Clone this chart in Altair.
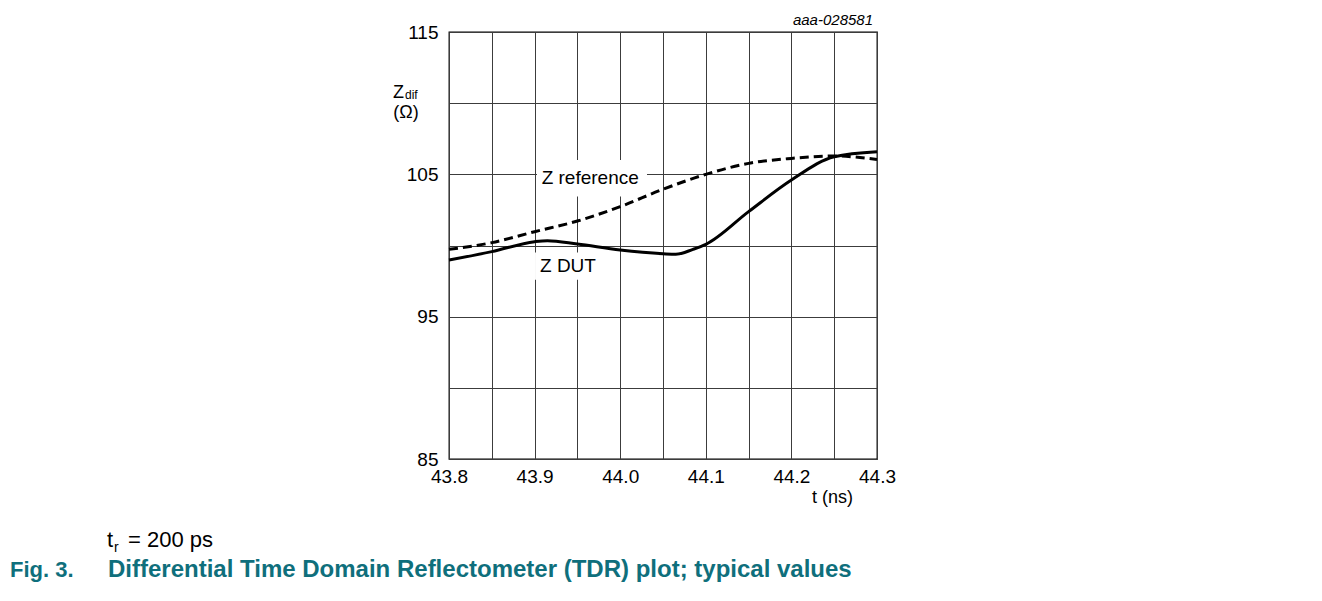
import altair as alt
import pandas as pd

# ---- data ----
t_ref = [43.8, 43.85, 43.9, 43.95, 44.0, 44.05, 44.1, 44.15, 44.2, 44.25, 44.3]
z_ref = [99.73, 100.2, 100.97, 101.72, 102.73, 103.95, 105.0, 105.77, 106.12, 106.29, 106.05]

t_dut = [43.8, 43.85, 43.9, 43.915, 43.95, 44.0, 44.05, 44.065, 44.085, 44.1, 44.15, 44.2, 44.25, 44.3]
z_dut = [98.98, 99.57, 100.27, 100.34, 100.1, 99.68, 99.42, 99.38, 99.73, 100.08, 102.38, 104.6, 106.24, 106.59]

x_ticks = [43.8, 43.85, 43.9, 43.95, 44.0, 44.05, 44.1, 44.15, 44.2, 44.25, 44.3]
y_ticks = [85, 90, 95, 100, 105, 110, 115]

label_text = ["Z reference", "Z DUT"]
label_t = [43.965, 43.939]
label_z = [104.74, 98.56]
box_t0 = [43.9028, 43.9005]
box_t1 = [44.0313, 43.9776]
box_z0 = [103.45, 97.6]
box_z1 = [106.0, 99.5]

FONT = "Liberation Sans"
GRID = "#3c3c3c"
TEAL = "#0f6f7c"

ref_df = pd.DataFrame({"t": t_ref, "z": z_ref})
dut_df = pd.DataFrame({"t": t_dut, "z": z_dut})
lab_df = pd.DataFrame({"text": label_text, "t": label_t, "z": label_z})
box_df = pd.DataFrame({"t0": box_t0, "t1": box_t1, "z0": box_z0, "z1": box_z1})
one = pd.DataFrame({"a": [0]})

xscale = alt.Scale(domain=[43.8, 44.3], nice=False, zero=False)
yscale = alt.Scale(domain=[85, 115], nice=False, zero=False)

xaxis = alt.Axis(
    values=x_ticks, grid=True, ticks=False, domain=False, title=None,
    labelExpr="abs(datum.value*10 - round(datum.value*10)) < 0.01 ? format(datum.value, '.1f') : ''",
    labelFont=FONT, labelFontSize=19, labelColor="black", labelPadding=8,
    labelOverlap=False, labelFlush=False, labelBound=False,
    gridColor=GRID, gridOpacity=1, gridWidth=1,
)
yaxis = alt.Axis(
    values=y_ticks, grid=True, ticks=False, domain=False, title=None,
    labelExpr="(datum.value % 10 == 5) ? datum.label : ''",
    labelFont=FONT, labelFontSize=19, labelColor="black", labelPadding=11,
    labelOverlap=False, labelFlush=False, labelBound=False,
    gridColor=GRID, gridOpacity=1, gridWidth=1,
)

ref_line = alt.Chart(ref_df).mark_line(
    color="black", strokeWidth=3, strokeDash=[9, 5], interpolate="monotone"
).encode(
    x=alt.X("t:Q", scale=xscale, axis=xaxis),
    y=alt.Y("z:Q", scale=yscale, axis=yaxis),
)

dut_line = alt.Chart(dut_df).mark_line(
    color="black", strokeWidth=3, interpolate="monotone"
).encode(
    x=alt.X("t:Q", scale=xscale),
    y=alt.Y("z:Q", scale=yscale),
)

boxes = alt.Chart(box_df).mark_rect(color="white", opacity=1).encode(
    x=alt.X("t0:Q", scale=xscale), x2="t1:Q",
    y=alt.Y("z0:Q", scale=yscale), y2="z1:Q",
)

labels = alt.Chart(lab_df).mark_text(
    font=FONT, fontSize=19, color="black", align="center", baseline="middle"
).encode(
    x=alt.X("t:Q", scale=xscale),
    y=alt.Y("z:Q", scale=yscale),
    text="text:N",
)


def txt(text, x, y, size=18, align="left", weight="normal", style="normal", color="black"):
    return alt.Chart(one).mark_text(
        text=text, font=FONT, fontSize=size, align=align, baseline="alphabetic",
        fontWeight=weight, fontStyle=style, color=color,
    ).encode(x=alt.value(x), y=alt.value(y))


annots = [
    txt("aaa-028581", 424, -7, size=15, align="right", style="italic"),
    txt("Z", -56, 66, size=18),
    txt("dif", -44, 67, size=12),
    txt("(\u03a9)", -43, 86, size=18, align="center"),
    txt("t (ns)", 383.5, 471, size=18, align="center"),
    txt("t", -342, 515, size=22),
    txt("r", -335, 520, size=14),
    txt("= 200 ps", -321, 515, size=22),
    txt("Fig. 3.", -439, 545, size=22, weight="bold", color=TEAL),
    txt("Differential Time Domain Reflectometer (TDR) plot; typical values", -341, 545,
        size=24, weight="bold", color=TEAL),
]

chart = alt.layer(boxes, labels, ref_line, dut_line, *annots).properties(
    width=428, height=427,
    padding={"left": 441, "top": 24, "right": 437, "bottom": 134},
    autosize=alt.AutoSizeParams(type="none"),
    background="white",
).configure_view(stroke="black", strokeWidth=1.3)

chart.save("out.html", embed_options={"renderer": "svg", "actions": False})
